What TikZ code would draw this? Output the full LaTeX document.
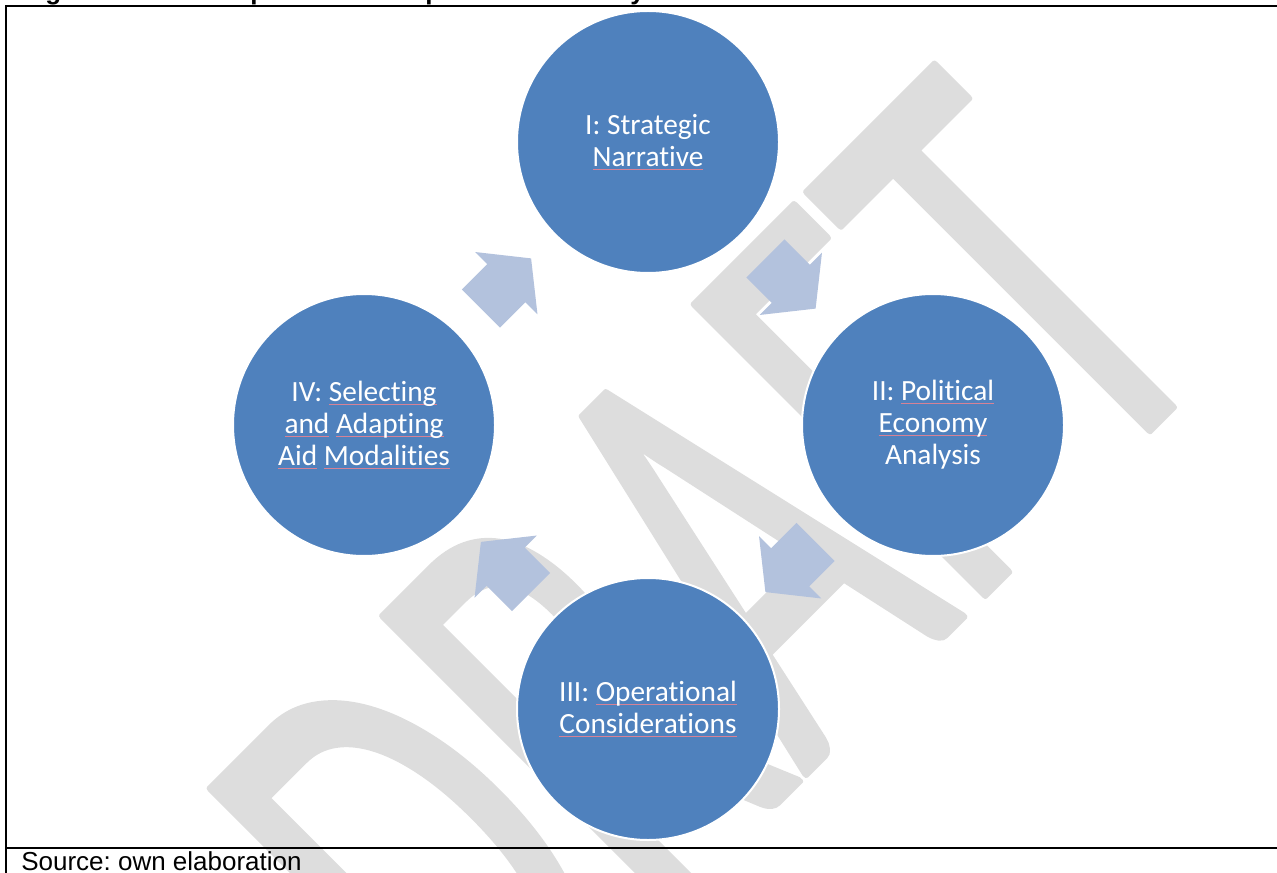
\documentclass[tikz,border=0pt]{standalone}
\usepackage{fontspec}
\setmainfont{Liberation Sans}
\newfontfamily\carlito[Ligatures={NoCommon}]{Carlito}
\newfontfamily\wmfont[Ligatures={NoCommon},FakeBold=1.2]{Carlito}
\usetikzlibrary{calc}
\definecolor{phaseblue}{RGB}{79,129,189}
\definecolor{arrowblue}{RGB}{179,194,221}
\definecolor{wmgray}{RGB}{221,221,221}
\definecolor{sqred}{RGB}{214,130,150}
\frenchspacing
\newsavebox\sqbox
\newcommand\sqw[1]{\sbox\sqbox{#1}\rlap{\textcolor{sqred}{\rule[-2.4pt]{\wd\sqbox}{0.6pt}}}\usebox\sqbox}
\newcommand\cycarrow[3]{\fill[cyc, shift={($(#1)!0.5!(#2)$)}, rotate=#3] (-35.5,-27) -- (0.5,-27) -- (0.5,-44) -- (35.5,0) -- (0.5,44) -- (0.5,27) -- (-35.5,27) -- cycle;}
\begin{document}
\begin{tikzpicture}[x=0.75pt,y=-0.75pt,
  phase/.style={circle, fill=phaseblue, draw=white, line width=1.5pt, minimum size=196.5pt, inner sep=0pt, text=white, align=center, font=\carlito\fontsize{22}{24}\selectfont},
  cyc/.style={fill=arrowblue},
  wm/.style={rotate=45, anchor=base west, inner sep=0pt, text=wmgray, font=\wmfont\fontsize{480}{480}\selectfont},
  frame/.style={line width=1.5pt, black},
  caption/.style={anchor=base west, inner sep=0pt, font=\fontsize{19.5}{20}\selectfont}]
\useasboundingbox (0,0) rectangle (1277,873);
\clip (0,0) rectangle (1277,873);
% watermark
\node[wm] (wm) at (481,1099) {\special{pdf:literal 1 j}\scalebox{0.616}[1]{DRAFT}};
% frame
\coordinate (tl) at (6,6.5);
\coordinate (tr) at (1290,6.5);
\coordinate (bl) at (6,890);
\coordinate (sl) at (6,848);
\coordinate (sr) at (1290,848);
\draw[frame] (tr) -- (tl) -- (bl);
\draw[frame] (sl) -- (sr);
% title (cut off at the top) and source
\node[caption, font=\bfseries\fontsize{19.5}{20}\selectfont] (title) at (22,0) {Figure 1: The four phases of the political economy framework};
\node[caption] (src) at (21,870) {Source: own elaboration};
% phases
\node[phase] (p1) at (648,142) {I: Strategic\\\sqw{Narrative}};
\node[phase] (p2) at (933,425) {II: \sqw{Political}\\\sqw{Economy}\\Analysis};
\node[phase] (p3) at (648,709) {III: \sqw{Operational}\\\sqw{Considerations}};
\node[phase] (p4) at (364,425) {IV: \sqw{Selecting}\\\sqw{and} \sqw{Adapting}\\\sqw{Aid} \sqw{Modalities}};
% cycle arrows
\cycarrow{p1}{p2}{-45}
\cycarrow{p2}{p3}{-135}
\cycarrow{p3}{p4}{135}
\cycarrow{p4}{p1}{45}
\end{tikzpicture}
\end{document}
